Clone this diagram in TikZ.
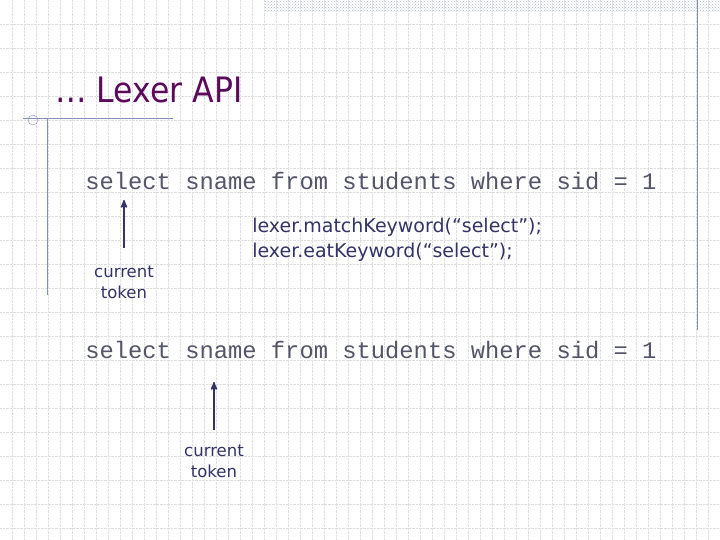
\documentclass[tikz,border=0pt]{standalone}
\usepackage{fontspec}
\setmainfont{DejaVu Sans}
\newfontfamily\codefont{Liberation Mono}
\usetikzlibrary{positioning,arrows,patterns}
\definecolor{titlecol}{HTML}{5C0A5C}
\definecolor{inkcol}{HTML}{333366}
\definecolor{codecol}{HTML}{55556A}
\definecolor{gridcol}{HTML}{DEDEDE}
\definecolor{rulecol}{HTML}{8090B8}

\begin{document}
\begin{tikzpicture}[x=1pt,y=-1pt,>=stealth',semithick]
    \tikzstyle{every node}=[inner sep=0pt]
    \tikzstyle{code}=[anchor=base west,font=\codefont\fontsize{23.8}{26}\selectfont,text=codecol]
    \tikzstyle{label}=[align=center,font=\fontsize{16.5}{21}\selectfont,text=inkcol]
    \tikzstyle{call}=[align=left,anchor=base west,font=\fontsize{19}{25}\selectfont,text=inkcol]
    \useasboundingbox (0,0) rectangle (720,540);
    \fill[white] (0,0) rectangle (720,540);
    % grid
    \foreach \x in {12,24,...,720} \draw[gridcol,densely dotted,thin] (\x,0) -- (\x,540);
    \foreach \y in {24,48,...,540} \draw[gridcol,densely dotted,thin] (0,\y) -- (720,\y);
    % slide decoration
    \fill[pattern=crosshatch dots,pattern color=rulecol!60] (265,0) rectangle (720,12);
    \draw[rulecol,thin] (697,0) -- (697,330);
    \draw[rulecol,thin] (23,118) -- (173,118);
    \draw[rulecol,thin] (47,118) -- (47,295);
    \draw[rulecol,thin] (33,120) circle (5);
    % title
    \node[anchor=base west,text=titlecol,font=\fontsize{35}{40}\selectfont,xscale=0.9] (title) at (55,103) {… Lexer API};
    % token streams
    \node[code] (q1) at (85,190) {select sname from students where sid = 1};
    \node[code] (q2) at (85,358) {select sname from students where sid = 1};
    \node[label] (cur1) at (124,282) {current\\token};
    \node[label] (cur2) at (214,461) {current\\token};
    \node[call] (calls) at (252,258) {lexer.matchKeyword(“select”);\\lexer.eatKeyword(“select”);};
    \coordinate (s1) at (124,248);
    \coordinate (t1) at (124,200);
    \coordinate (s2) at (214,430);
    \coordinate (t2) at (214,382);
    \draw[->,inkcol,line width=1.6pt] (s1) -- (t1);
    \draw[->,inkcol,line width=1.6pt] (s2) -- (t2);
\end{tikzpicture}
\end{document}
